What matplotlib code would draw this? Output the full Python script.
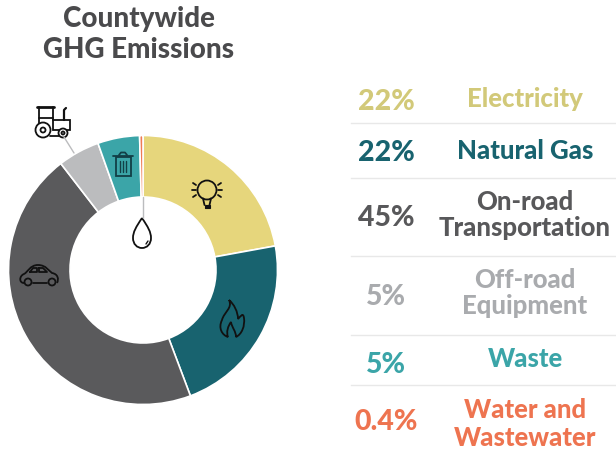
import numpy as np
import matplotlib
matplotlib.use('Agg')
import matplotlib.pyplot as plt
from matplotlib.path import Path
from matplotlib.patches import PathPatch, Circle, Rectangle

# Data
categories = ['Electricity', 'Natural Gas', 'On-road\nTransportation', 'Off-road\nEquipment', 'Waste', 'Water and\nWastewater']
values = [22, 22, 45, 5, 5, 0.4]
pct_labels = ['22%', '22%', '45%', '5%', '5%', '0.4%']
wedge_colors = ['#E6D67C', '#18636F', '#5A5A5C', '#BBBCBE', '#3BA5A8', '#EE7B55']
text_colors = ['#D2C979', '#18636F', '#58585A', '#A9ABAE', '#3BA5A8', '#EE7450']
pct_y = [102, 153, 218, 297, 365, 422]
label_y = [99, 151, 215, 293, 359, 424]
rule_y = [123, 178, 256, 335, 385]

W, H = 616, 451
plt.rcParams['font.family'] = ['Lato', 'DejaVu Sans']
fig = plt.figure(figsize=(W / 100, H / 100), dpi=100)

# Donut
cx, cy, r = 143, 270, 134.5
ax = fig.add_axes([(cx - r) / W, 1 - (cy + r) / H, 2 * r / W, 2 * r / H])
ax.pie(values, colors=wedge_colors, startangle=90, counterclock=False, radius=1,
       wedgeprops=dict(width=1 - 73 / 134.5, edgecolor='white', linewidth=1.2))
ax.set_xlim(-1, 1)
ax.set_ylim(-1, 1)

# Overlay in pixel coordinates
ov = fig.add_axes([0, 0, 1, 1])
ov.set_xlim(0, W)
ov.set_ylim(H, 0)
ov.axis('off')
ov.patch.set_alpha(0)

ink = '#111111'

def line(xs, ys, c=ink, lw=1.3):
    ov.plot(xs, ys, color=c, lw=lw, solid_capstyle='round', solid_joinstyle='round')

def curve(verts, fc='none', lw=1.3):
    codes = [Path.MOVETO] + [Path.CURVE4] * (len(verts) - 1)
    ov.add_patch(PathPatch(Path(verts, codes), fc=fc, ec=ink, lw=lw))

def circle(x, y, rad, fc='none', lw=1.3):
    ov.add_patch(Circle((x, y), rad, fc=fc, ec=ink, lw=lw))

# Title
ov.text(139, 19, 'Countywide', ha='center', va='center', fontsize=20, fontweight='black', color='#4A4A4C')
ov.text(139, 50, 'GHG Emissions', ha='center', va='center', fontsize=20, fontweight='black', color='#4A4A4C')

# Table
for y in rule_y:
    ov.plot([351, W], [y, y], color='#E8E8E8', lw=1)
for cat, pct, col, py, ly in zip(categories, pct_labels, text_colors, pct_y, label_y):
    ov.text(386, py, pct, ha='center', va='center', fontsize=20.5, fontweight='black', color=col)
    ov.text(525, ly, cat, ha='center', va='center', fontsize=18.5, fontweight='black', color=col,
            linespacing=1.15)

# Leader lines
line([143, 143], [197, 218], c='#BBBCBE', lw=1)
line([64, 74], [137, 153], c='#BBBCBE', lw=1)

# Drop
curve([(142, 218), (136, 227), (133, 232), (133, 238), (133, 244), (137, 248), (142, 248),
       (147, 248), (151, 244), (151, 238), (151, 232), (148, 227), (142, 218)])
line([146, 148], [244, 241], lw=1)

# Bulb
circle(207, 190, 9.5)
line([203, 204.5], [198.5, 205])
line([211, 209.5], [198.5, 205])
ov.add_patch(Rectangle((204.5, 205), 5, 2.5, fc=ink, ec=ink, lw=0.8))
line([205.5, 208.5], [207.5, 207.5])
for x0, y0, x1, y1 in [(192, 190, 196, 190), (193, 183, 196, 185), (193, 197, 196, 195),
                       (222, 190, 218, 190), (221, 183, 218, 185), (221, 197, 218, 195)]:
    line([x0, x1], [y0, y1])

# Flame
curve([(229, 300), (233, 308), (224, 312), (222, 320), (218, 328), (222, 335), (228, 337),
       (226, 332), (228, 326), (231, 322), (232, 328), (236, 331), (236, 337), (242, 334),
       (245, 326), (244, 318), (243, 312), (241, 316), (238, 319), (238, 312), (234, 304), (229, 300)])

# Trash can
can = '#123F46'
ov.add_patch(Rectangle((115.5, 157), 15, 19, fc='none', ec=can, lw=1.3))
line([113, 133], [155.5, 155.5], c=can)
line([119, 121, 125, 127], [155, 152.5, 152.5, 155], c=can)
for x in [120, 123, 126]:
    line([x, x], [161, 172], c=can, lw=1)

# Car
curve([(24, 283), (19, 283), (19, 276), (24, 274), (28, 272), (30, 265), (38, 265), (46, 265),
       (49, 271), (52, 273), (58, 274), (59, 279), (57, 283)])
line([33, 47], [283, 283])
circle(28, 282, 3.5)
circle(52, 282, 3.5)
line([30, 33, 37, 37, 30], [272, 268, 268, 272, 272])
line([39, 43, 47, 39, 39], [268, 268, 272, 272, 268])

# Tractor
ov.add_patch(Rectangle((53, 120), 17, 10, fc='white', ec=ink, lw=1.3))
circle(43, 130, 7.5, fc='white')
circle(43, 130, 2.5, fc='white')
circle(63, 133, 4.5, fc='white')
circle(63, 133, 1.5, fc='white')
line([37, 54], [107, 107], lw=2)
line([39, 39], [107, 123])
line([53, 53], [107, 120])
line([39, 53], [118, 118])
line([64, 64, 66], [120, 110, 108], lw=1.6)
line([50, 59], [136, 136])

fig.savefig('out.png', dpi=100, facecolor='white')
